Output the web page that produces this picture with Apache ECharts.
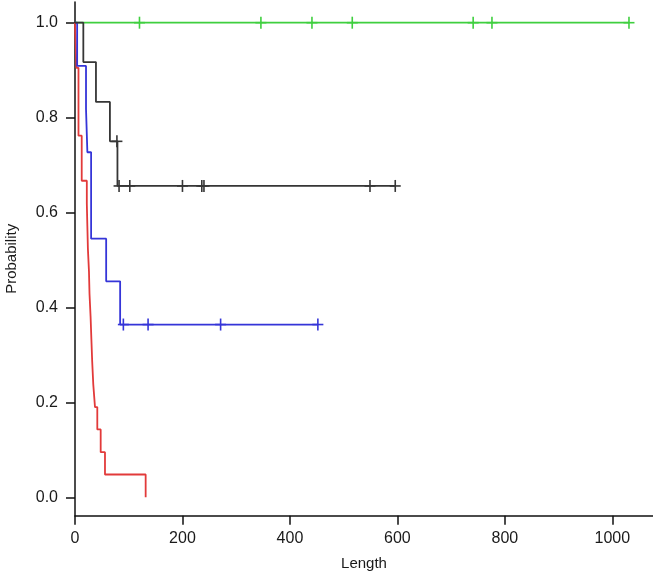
<!DOCTYPE html>
<html>
<head>
<meta charset="utf-8">
<script src="https://cdn.jsdelivr.net/npm/echarts@6/dist/echarts.min.js"></script>
<style>
html,body{margin:0;padding:0;background:#fff;}
#chart{width:653px;height:579px;}
</style>
</head>
<body>
<div id="chart"></div>
<script>
// ---- data ----
const xTicks = [0, 200, 400, 600, 800, 1000];
const yTicks = [0, 0.2, 0.4, 0.6, 0.8, 1.0];

const greenTimes = [0, 1031];
const greenSurv = [1, 1];
const greenCensorTimes = [120, 346, 441, 516, 741, 776, 1031];
const greenCensorSurv = [1, 1, 1, 1, 1, 1, 1];

const blackTimes = [0, 15.5, 39, 65, 79, 596];
const blackSurv = [1, 0.917, 0.833, 0.75, 0.656, 0.656];
const blackCensorTimes = [78, 82, 102, 200, 236, 240, 549, 596];
const blackCensorSurv = [0.75, 0.656, 0.656, 0.656, 0.656, 0.656, 0.656, 0.656];

const blueTimes = [0, 4, 20.5, 23, 30, 58, 84, 452];
const blueSurv = [1, 0.909, 0.818, 0.727, 0.545, 0.455, 0.364, 0.364];
const blueCensorTimes = [90, 136, 271, 452];
const blueCensorSurv = [0.364, 0.364, 0.364, 0.364];

const redTimes = [0, 2.5, 6.5, 12.5, 22, 23, 24, 26, 27, 29, 30.5, 32, 34, 37.2, 41.5, 47.8, 55.8, 131.5];
const redSurv = [1, 0.905, 0.762, 0.667, 0.619, 0.571, 0.524, 0.476, 0.429, 0.381, 0.333, 0.286, 0.238, 0.190, 0.143, 0.095, 0.048, 0];

// ---- styles ----
const COLORS = {green: '#3fcf3f', black: '#363636', blue: '#3535d8', red: '#e23a3a'};
const FONT = 'Liberation Sans, Arial, sans-serif';

function pairs(xs, ys) { return xs.map((x, i) => [x, ys[i]]); }

function stepSeries(name, xs, ys, color) {
  return {
    name: name, type: 'line', step: 'end', data: pairs(xs, ys),
    showSymbol: false, symbol: 'none', animation: false,
    lineStyle: {color: color, width: 1.8}, z: 2
  };
}
function censorSeries(name, xs, ys, color) {
  return {
    name: name + ' censor', type: 'custom', data: pairs(xs, ys), animation: false, z: 3,
    renderItem: function (params, api) {
      const p = api.coord([api.value(0), api.value(1)]);
      return {
        type: 'group',
        children: [
          {type: 'line', shape: {x1: p[0], y1: p[1] - 6, x2: p[0], y2: p[1] + 6}, style: {stroke: color, lineWidth: 1.6}},
          {type: 'line', shape: {x1: p[0] - 5.5, y1: p[1], x2: p[0] + 5.5, y2: p[1]}, style: {stroke: color, lineWidth: 1.6}}
        ]
      };
    }
  };
}

const chart = echarts.init(document.getElementById('chart'), null, {renderer: 'canvas'});
chart.setOption({
  backgroundColor: '#fff',
  animation: false,
  grid: {left: 75, top: 2, width: 578, height: 513.7, containLabel: false, outerBoundsMode: 'none'},
  xAxis: {
    type: 'value', min: 0, max: 1075.7,
    name: 'Length', nameLocation: 'middle', nameGap: 41,
    nameTextStyle: {fontSize: 15, color: '#1a1a1a', fontFamily: FONT},
    axisLine: {show: true, onZero: false, lineStyle: {color: '#111', width: 1.5}},
    axisTick: {show: true, length: 9, customValues: xTicks, lineStyle: {color: '#111', width: 1.5}},
    axisLabel: {customValues: xTicks, fontSize: 16, color: '#1a1a1a', fontFamily: FONT, margin: 15,
      formatter: function (v) { return String(Math.round(v)); }},
    splitLine: {show: false}
  },
  yAxis: {
    type: 'value', min: -0.0388, max: 1.0436,
    name: 'Probability', nameLocation: 'middle', nameGap: 56,
    nameTextStyle: {fontSize: 15, color: '#1a1a1a', fontFamily: FONT},
    axisLine: {show: true, onZero: false, lineStyle: {color: '#111', width: 1.5}},
    axisTick: {show: true, length: 9, customValues: yTicks, lineStyle: {color: '#111', width: 1.5}},
    axisLabel: {customValues: yTicks, fontSize: 16, color: '#1a1a1a', fontFamily: FONT, margin: 17,
      formatter: function (v) { return Number(v).toFixed(1); }},
    splitLine: {show: false}
  },
  series: [
    stepSeries('green', greenTimes, greenSurv, COLORS.green),
    censorSeries('green', greenCensorTimes, greenCensorSurv, COLORS.green),
    stepSeries('red', redTimes, redSurv, COLORS.red),
    stepSeries('blue', blueTimes, blueSurv, COLORS.blue),
    censorSeries('blue', blueCensorTimes, blueCensorSurv, COLORS.blue),
    stepSeries('black', blackTimes, blackSurv, COLORS.black),
    censorSeries('black', blackCensorTimes, blackCensorSurv, COLORS.black)
  ]
});
</script>
</body>
</html>
